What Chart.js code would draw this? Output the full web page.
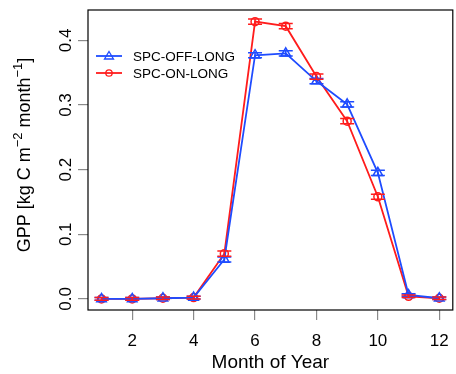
<!DOCTYPE html>
<html>
<head>
<meta charset="utf-8">
<script src="https://cdn.jsdelivr.net/npm/chart.js@4.4.1/dist/chart.umd.min.js"></script>
<style>
  html, body { margin: 0; padding: 0; background: #fff; overflow: hidden; }
  #wrap { width: 460px; height: 374px; }
</style>
</head>
<body>
<div id="wrap"><canvas id="gpp"></canvas></div>
<script>
"use strict";

// ========== DATA ========== //
const months = [1, 2, 3, 4, 5, 6, 7, 8, 9, 10, 11, 12];
const gppOff = [0.000, 0.000, 0.001, 0.002, 0.061, 0.377, 0.380, 0.337, 0.301, 0.195, 0.006, 0.001];
const gppOn  = [0.000, 0.000, 0.001, 0.002, 0.070, 0.429, 0.422, 0.344, 0.275, 0.158, 0.004, 0.001];
const errOff = [0.002, 0.002, 0.002, 0.002, 0.004, 0.004, 0.004, 0.004, 0.004, 0.004, 0.002, 0.002];
const errOn  = [0.002, 0.002, 0.002, 0.002, 0.004, 0.004, 0.004, 0.004, 0.004, 0.004, 0.002, 0.002];
const xTicks = [2, 4, 6, 8, 10, 12];
const yTicks = [0.0, 0.1, 0.2, 0.3, 0.4];
const seriesNames = ["SPC-OFF-LONG", "SPC-ON-LONG"];

const BLUE = "#1f4cff";
const RED = "#ff1c1c";
const FONT = "'Liberation Sans', Arial, Helvetica, sans-serif";

function toPoints(values) {
  return months.map((m, i) => ({ x: m, y: values[i] }));
}

// error bars: short vertical line with a cap at each end
const errorBars = {
  id: "errorBars",
  afterDatasetsDraw(chart) {
    const ctx = chart.ctx;
    const x = chart.scales.x, y = chart.scales.y;
    chart.data.datasets.forEach(ds => {
      ctx.save();
      ctx.strokeStyle = ds.borderColor;
      ctx.lineWidth = 1.5;
      ds.data.forEach((p, i) => {
        const px = x.getPixelForValue(p.x);
        const top = y.getPixelForValue(p.y + ds.err[i]);
        const bot = y.getPixelForValue(p.y - ds.err[i]);
        ctx.beginPath();
        ctx.moveTo(px, top); ctx.lineTo(px, bot);
        ctx.moveTo(px - 7, top); ctx.lineTo(px + 7, top);
        ctx.moveTo(px - 7, bot); ctx.lineTo(px + 7, bot);
        ctx.stroke();
      });
      ctx.restore();
    });
  }
};

// box, rotated y labels, y title and legend inside the plot
const frame = {
  id: "frame",
  afterDraw(chart) {
    const ctx = chart.ctx;
    const a = chart.chartArea;
    const y = chart.scales.y;
    ctx.save();
    ctx.strokeStyle = "#000";
    ctx.lineWidth = 1.2;
    ctx.strokeRect(a.left, a.top, a.right - a.left, a.bottom - a.top);

    // y tick labels, parallel to the axis
    ctx.fillStyle = "#000";
    ctx.font = "17px " + FONT;
    ctx.textAlign = "center";
    ctx.textBaseline = "alphabetic";
    y.ticks.forEach(t => {
      const py = y.getPixelForValue(t.value);
      ctx.save();
      ctx.translate(71, py);
      ctx.rotate(-Math.PI / 2);
      ctx.fillText(t.value.toFixed(1), 0, 0);
      ctx.restore();
    });

    // y title with superscripts
    const parts = [
      ["GPP [kg C m", false], ["\u22122", true], [" month", false], ["\u22121", true], ["]", false]
    ];
    const big = "18px " + FONT, small = "13px " + FONT;
    let total = 0;
    parts.forEach(p => { ctx.font = p[1] ? small : big; total += ctx.measureText(p[0]).width; });
    ctx.save();
    ctx.translate(30, (a.top + a.bottom) / 2 - 5);
    ctx.rotate(-Math.PI / 2);
    ctx.textAlign = "left";
    let cx = -total / 2;
    parts.forEach(p => {
      ctx.font = p[1] ? small : big;
      ctx.fillText(p[0], cx, p[1] ? -8 : 0);
      cx += ctx.measureText(p[0]).width;
    });
    ctx.restore();

    // legend
    ctx.font = "13.5px " + FONT;
    ctx.textAlign = "left";
    ctx.textBaseline = "middle";
    chart.data.datasets.forEach((ds, i) => {
      const ly = 56 + i * 17;
      ctx.strokeStyle = ds.borderColor;
      ctx.lineWidth = 1.8;
      ctx.beginPath();
      ctx.moveTo(96, ly); ctx.lineTo(122, ly);
      ctx.stroke();
      ctx.lineWidth = 1.3;
      ctx.beginPath();
      if (ds.pointStyle === "triangle") {
        ctx.moveTo(109, ly - 4.5); ctx.lineTo(113.5, ly + 3); ctx.lineTo(104.5, ly + 3); ctx.closePath();
      } else {
        ctx.arc(109, ly, 3.2, 0, Math.PI * 2);
      }
      ctx.stroke();
      ctx.fillStyle = "#000";
      ctx.fillText(ds.label, 133, ly + 1);
    });
    ctx.restore();
  }
};

let chartContainer = document.querySelector("#gpp");
let chart = new Chart(chartContainer, {
  type: "line",
  data: {
    datasets: [
      {
        label: seriesNames[0],
        data: toPoints(gppOff),
        err: errOff,
        borderColor: BLUE,
        backgroundColor: "rgba(0,0,0,0)",
        borderWidth: 1.8,
        pointStyle: "triangle",
        pointRadius: 5.5,
        pointBorderWidth: 1.5,
        pointBorderColor: BLUE,
        tension: 0
      },
      {
        label: seriesNames[1],
        data: toPoints(gppOn),
        err: errOn,
        borderColor: RED,
        backgroundColor: "rgba(0,0,0,0)",
        borderWidth: 1.8,
        pointStyle: "circle",
        pointRadius: 4,
        pointBorderWidth: 1.5,
        pointBorderColor: RED,
        tension: 0
      }
    ]
  },
  options: {
    responsive: true,
    maintainAspectRatio: false,
    animation: false,
    events: [],
    layout: { padding: { left: 0, top: 10, right: 2, bottom: 0 } },
    plugins: { legend: { display: false }, tooltip: { enabled: false } },
    scales: {
      x: {
        type: "linear",
        min: 0.56,
        max: 12.44,
        afterBuildTicks: s => { s.ticks = xTicks.map(v => ({ value: v })); },
        afterFit: s => { s.height = 64; },
        border: { display: false },
        grid: { drawOnChartArea: false, drawTicks: true, tickLength: 10, color: "#8a8a8a", lineWidth: 1.2 },
        ticks: { color: "#000", font: { family: FONT, size: 17 }, padding: 11, maxRotation: 0, autoSkip: false },
        title: { display: true, text: "Month of Year", color: "#000", font: { family: FONT, size: 19 }, padding: { top: 0, bottom: 0 } }
      },
      y: {
        min: -0.0172,
        max: 0.447,
        afterBuildTicks: s => { s.ticks = yTicks.map(v => ({ value: v })); },
        afterFit: s => { s.width = 88; },
        border: { display: false },
        grid: { drawOnChartArea: false, drawTicks: true, tickLength: 10, color: "#8a8a8a", lineWidth: 1.2 },
        ticks: { display: false }
      }
    }
  },
  plugins: [errorBars, frame]
});
</script>
</body>
</html>
